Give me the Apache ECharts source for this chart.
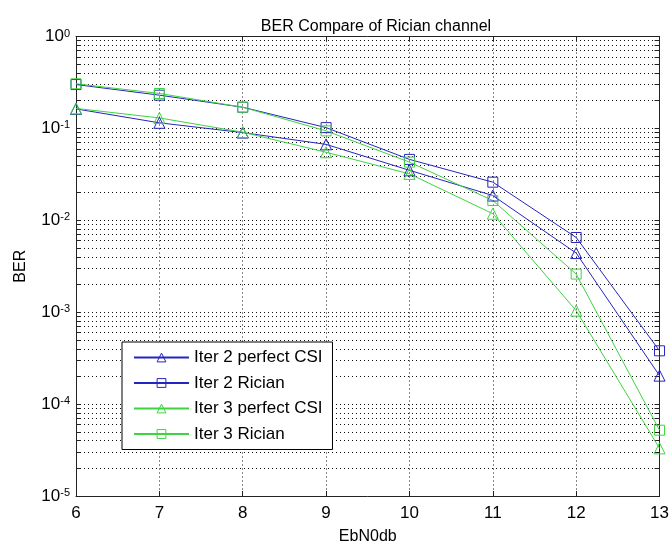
<!DOCTYPE html>
<html><head><meta charset="utf-8">
<script src="https://cdn.jsdelivr.net/npm/echarts@6/dist/echarts.min.js"></script>
<style>html,body{margin:0;padding:0;background:#fff}#c{width:672px;height:550px}</style>
</head><body><div id="c"></div>
<script>
const ebn0 = [6, 7, 8, 9, 10, 11, 12, 13];
const iter2Perfect = [0.163, 0.115, 0.090, 0.067, 0.035, 0.0186, 0.0044, 0.000204];
const iter2Rician  = [0.300, 0.230, 0.170, 0.102, 0.046, 0.026, 0.0065, 0.00038];
const iter3Perfect = [0.165, 0.130, 0.091, 0.055, 0.032, 0.0118, 0.00104, 0.000033];
const iter3Rician  = [0.306, 0.240, 0.170, 0.094, 0.043, 0.0164, 0.0026, 0.000052];
const seriesNames = ['Iter 2 perfect CSI', 'Iter 2 Rician', 'Iter 3 perfect CSI', 'Iter 3 Rician'];
const yMajor = [1e-5, 1e-4, 1e-3, 1e-2, 1e-1, 1];
const yMinorMult = [2, 3, 4, 5, 6, 7, 8, 9];

const FONT = '"Liberation Sans", Arial, sans-serif';
const BLUE = '#2525c0';
const GREEN = '#3fd43f';

const yTicks = [];
yMajor.forEach((d, i) => {
  yTicks.push(d);
  if (i < yMajor.length - 1) yMinorMult.forEach(m => yTicks.push(+(m * d).toPrecision(3)));
});

function pairs(vals) { return ebn0.map((x, i) => [x, vals[i]]); }

function mk(name, vals, color, symbol) {
  return {
    type: 'line', name: name, data: pairs(vals),
    xAxisIndex: 0, yAxisIndex: 0,
    symbol: symbol, symbolSize: symbol === 'rect' ? 10 : 11,
    lineStyle: { color: color, width: 1 },
    itemStyle: { color: 'none', borderColor: color, borderWidth: 1 },
    emphasis: { disabled: true }, animation: false
  };
}

const dotted = { type: [1, 3], color: '#111', width: 1 };
const chart = echarts.init(document.getElementById('c'), null, { renderer: 'canvas' });
chart.setOption({
  backgroundColor: '#fff',
  animation: false,
  title: {
    text: 'BER Compare of Rician channel', left: 371, top: 14, textAlign: 'center',
    textStyle: { fontSize: 16, fontWeight: 'normal', color: '#000', fontFamily: FONT }
  },
  grid: { left: 76, right: 6.5, top: 36.5, bottom: 49, containLabel: false },
  legend: {
    orient: 'vertical', left: 122, top: 342,
    backgroundColor: '#fff', borderColor: '#000', borderWidth: 1, borderRadius: 0,
    padding: [7, 10, 7, 11], itemGap: 8.5, itemWidth: 55, itemHeight: 11,
    itemStyle: { color: 'none', borderWidth: 1 },
    textStyle: { fontSize: 17, color: '#000', fontFamily: FONT },
    data: seriesNames
  },
  xAxis: [
    {
      type: 'value', min: 6, max: 13, interval: 1, position: 'bottom',
      axisLine: { onZero: false, lineStyle: { color: '#222', width: 1 } },
      axisTick: { inside: true, length: 5, lineStyle: { color: '#222' } },
      axisLabel: { fontSize: 17, color: '#000', margin: 9, fontFamily: FONT },
      splitLine: { show: true, lineStyle: dotted },
      name: 'EbN0db', nameLocation: 'middle', nameGap: 33,
      nameTextStyle: { fontSize: 16, color: '#000', fontFamily: FONT }
    },
    {
      type: 'value', min: 6, max: 13, interval: 1, position: 'top',
      axisLine: { onZero: false, lineStyle: { color: '#222', width: 1 } },
      axisTick: { inside: true, length: 5, lineStyle: { color: '#222' } },
      axisLabel: { show: false }, splitLine: { show: false }
    }
  ],
  yAxis: [
    {
      type: 'log', logBase: 10, min: 1e-5, max: 1, position: 'left',
      axisLine: { onZero: false, lineStyle: { color: '#222', width: 1 } },
      axisTick: { inside: true, length: 5, customValues: yTicks, lineStyle: { color: '#222' } },
      axisLabel: {
        customValues: yMajor, margin: 6, color: '#000', fontFamily: FONT,
        formatter: v => '{b|10}{s|' + Math.round(Math.log10(v)) + '}',
        rich: {
          b: { fontSize: 17, fontFamily: FONT, color: '#000', verticalAlign: 'bottom', lineHeight: 17 },
          s: { fontSize: 11, fontFamily: FONT, color: '#000', verticalAlign: 'top', lineHeight: 11, padding: [0, 0, 12, 0] }
        }
      },
      splitLine: { show: true, lineStyle: dotted },
      name: 'BER', nameLocation: 'middle', nameGap: 47, nameRotate: 90,
      nameTextStyle: { fontSize: 16, color: '#000', fontFamily: FONT }
    },
    {
      type: 'log', logBase: 10, min: 1e-5, max: 1, position: 'right',
      axisLine: { onZero: false, lineStyle: { color: '#222', width: 1 } },
      axisTick: { inside: true, length: 5, customValues: yTicks, lineStyle: { color: '#222' } },
      axisLabel: { show: false }, splitLine: { show: false }
    }
  ],
  series: [
    mk(seriesNames[0], iter2Perfect, BLUE, 'triangle'),
    mk(seriesNames[1], iter2Rician, BLUE, 'rect'),
    mk(seriesNames[2], iter3Perfect, GREEN, 'triangle'),
    mk(seriesNames[3], iter3Rician, GREEN, 'rect')
  ]
});
</script></body></html>
